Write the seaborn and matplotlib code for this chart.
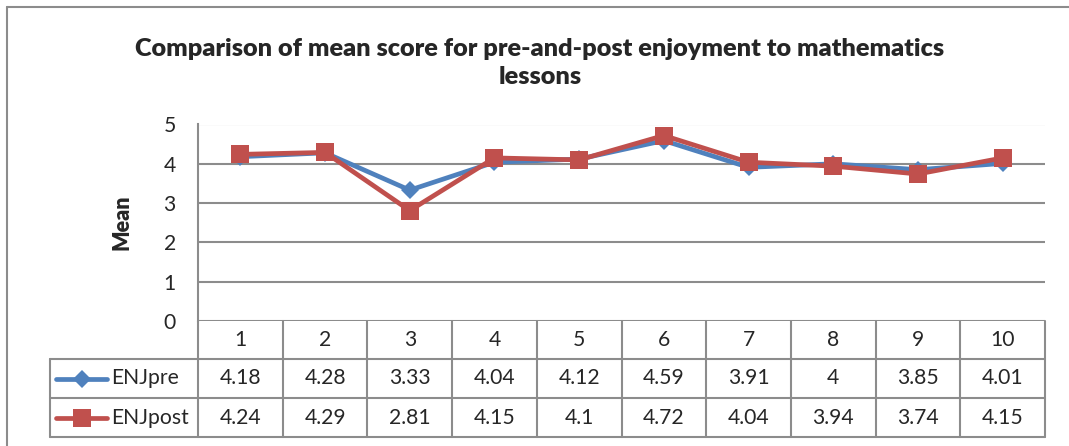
import matplotlib
matplotlib.use("Agg")
import matplotlib.pyplot as plt
from matplotlib.lines import Line2D
import seaborn as sns
import pandas as pd

categories = ["1", "2", "3", "4", "5", "6", "7", "8", "9", "10"]
enj_pre = [4.18, 4.28, 3.33, 4.04, 4.12, 4.59, 3.91, 4, 3.85, 4.01]
enj_post = [4.24, 4.29, 2.81, 4.15, 4.1, 4.72, 4.04, 3.94, 3.74, 4.15]
pre_labels = ["4.18", "4.28", "3.33", "4.04", "4.12", "4.59", "3.91", "4", "3.85", "4.01"]
post_labels = ["4.24", "4.29", "2.81", "4.15", "4.1", "4.72", "4.04", "3.94", "3.74", "4.15"]
series_names = ["ENJpre", "ENJpost"]
title = "Comparison of mean score for pre-and-post enjoyment to mathematics\nlessons"
ylabel = "Mean"
yticks = [0, 1, 2, 3, 4, 5]

BLUE = "#4F81BD"
RED = "#C0504D"
GRID = "#8C8C8C"

sns.set_style("white")
plt.rcParams["font.family"] = ["Lato", "DejaVu Sans"]

W, H = 1069, 446
fig = plt.figure(figsize=(W / 100, H / 100), dpi=100)

def fx(px):
    return px / W

def fy(py):
    return 1 - py / H

FS = 15.2

left, right, top, bottom = 198, 1045, 124.5, 321
ax = fig.add_axes([fx(left), fy(bottom), fx(right) - fx(left), fy(top) - fy(bottom)])

xs = list(range(len(categories)))
df = pd.DataFrame({
    "x": xs + xs,
    "value": enj_pre + enj_post,
    "series": [series_names[0]] * len(xs) + [series_names[1]] * len(xs),
})

sns.lineplot(data=df, x="x", y="value", hue="series", style="series",
             palette={series_names[0]: BLUE, series_names[1]: RED},
             markers={series_names[0]: "D", series_names[1]: "s"},
             dashes=False, linewidth=3.4, ax=ax, legend=False)
for line, ms in zip(ax.lines, [9, 12.5]):
    line.set_markersize(ms)
    line.set_markeredgewidth(0)
ax.lines[0].set_zorder(3)
ax.lines[1].set_zorder(4)

ax.set_xlim(-0.5, len(categories) - 0.5)
ax.set_ylim(0, 5)
ax.set_yticks(yticks)
ax.set_yticklabels([str(t) for t in yticks], fontsize=FS)
ax.set_xticks([])
ax.set_xlabel("")
ax.set_ylabel("")
ax.tick_params(axis="y", length=0, pad=16)
for y in yticks:
    ax.axhline(y, color=GRID, lw=1.5, zorder=1)
for s in ["top", "right", "bottom"]:
    ax.spines[s].set_visible(False)
ax.spines["left"].set_color(GRID)
ax.spines["left"].set_linewidth(1.5)

fig.text(fx(122), fy(222), ylabel, rotation=90, ha="center", va="center",
         fontsize=15.5, fontweight="heavy")
fig.text(fx(540), fy(63), title, ha="center", va="center", fontsize=18.2,
         fontweight="heavy", linespacing=1.38)

# outer chart border
fig.add_artist(Line2D([fx(7), fx(1069)], [fy(7), fy(7)], color="#8C8C8C", lw=1.5))
fig.add_artist(Line2D([fx(7), fx(7)], [fy(7), fy(446)], color="#8C8C8C", lw=1.5))

# data table
colw = (right - left) / len(categories)
row_y = [321, 359, 398, 437]
tl = 50
def hline(x0, x1, y):
    fig.add_artist(Line2D([fx(x0), fx(x1)], [fy(y), fy(y)], color=GRID, lw=1.5))
def vline(x, y0, y1):
    fig.add_artist(Line2D([fx(x), fx(x)], [fy(y0), fy(y1)], color=GRID, lw=1.5))

hline(tl, right, row_y[1])
hline(tl, right, row_y[2])
hline(tl, right, row_y[3])
vline(tl, row_y[1], row_y[3])
for i in range(len(categories) + 1):
    vline(left + i * colw, row_y[0], row_y[3])

for i, c in enumerate(categories):
    cx = left + (i + 0.5) * colw
    fig.text(fx(cx), fy((row_y[0] + row_y[1]) / 2), c, ha="center", va="center", fontsize=FS)
    fig.text(fx(cx), fy((row_y[1] + row_y[2]) / 2), pre_labels[i], ha="center", va="center", fontsize=FS)
    fig.text(fx(cx), fy((row_y[2] + row_y[3]) / 2), post_labels[i], ha="center", va="center", fontsize=FS)

for r, (name, col, mk, ms) in enumerate(zip(series_names, [BLUE, RED], ["D", "s"], [9, 12.5])):
    cy = (row_y[r + 1] + row_y[r + 2]) / 2
    fig.add_artist(Line2D([fx(56), fx(107)], [fy(cy), fy(cy)], color=col, lw=3.4,
                          solid_capstyle="round"))
    fig.add_artist(Line2D([fx(82)], [fy(cy)], color=col, marker=mk, markersize=ms,
                          markeredgewidth=0))
    fig.text(fx(111), fy(cy), name, ha="left", va="center", fontsize=FS)

fig.savefig("out.png", dpi=100)
